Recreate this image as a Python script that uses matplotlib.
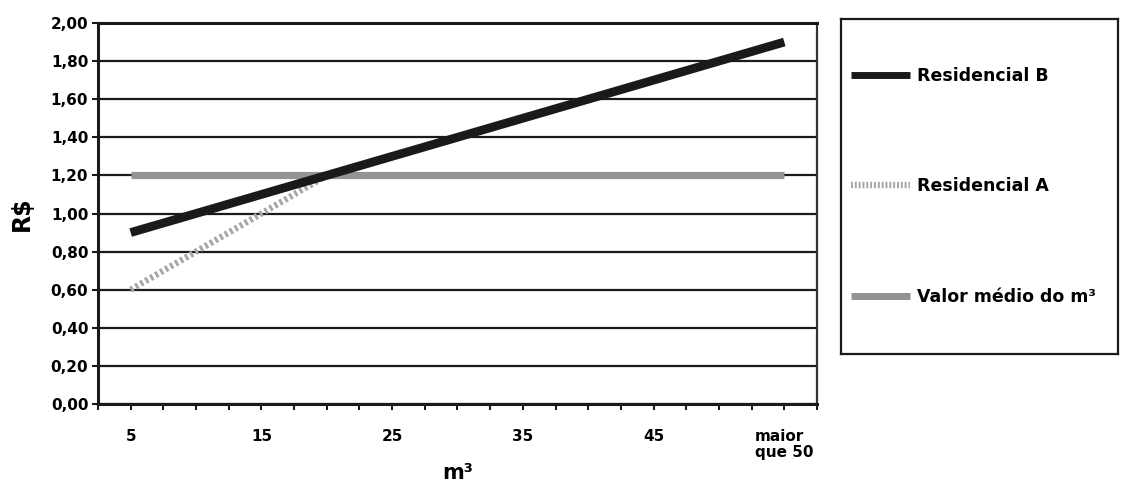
import matplotlib
matplotlib.use("Agg")
import matplotlib.pyplot as plt
from matplotlib.lines import Line2D
from matplotlib.ticker import MultipleLocator

plt.rcParams["font.family"] = ["DejaVu Sans"]
plt.rcParams["font.weight"] = "bold"

# x positions of the categories (last one is "maior que 50")
tick_pos = [5, 15, 25, 35, 45, 55]
tick_labels = ["5", "15", "25", "35", "45", "maior\nque 50"]

res_b_x = [5, 55]
res_b_y = [0.90, 1.90]

res_a_x = [5, 20]
res_a_y = [0.60, 1.20]

media_x = [5, 55]
media_y = [1.20, 1.20]

y_ticks = [0.0, 0.2, 0.4, 0.6, 0.8, 1.0, 1.2, 1.4, 1.6, 1.8, 2.0]

fig = plt.figure(figsize=(11.21, 4.82), dpi=100)
ax = fig.add_axes([0.0874, 0.1618, 0.6414, 0.7905])

for y in y_ticks:
    ax.axhline(y, color="#1a1a1a", linewidth=1.6, zorder=1)

ax.plot(media_x, media_y, color="#939393", linewidth=5.2,
        solid_capstyle="butt", zorder=3)
ax.plot(res_a_x, res_a_y, color="#a6a6a6", linewidth=4.6,
        linestyle=(0, (0.45, 0.45)), dash_capstyle="butt", zorder=2)
ax.plot(res_b_x, res_b_y, color="#1a1a1a", linewidth=6.3,
        solid_capstyle="butt", zorder=4)

ax.set_xlim(2.5, 57.5)
ax.set_ylim(0, 2.0)
ax.set_xticks(tick_pos)
ax.set_xticklabels(tick_labels, fontsize=11, fontweight="bold", linespacing=1.1)
ax.xaxis.set_minor_locator(MultipleLocator(2.5))
ax.set_yticks(y_ticks)
ax.set_yticklabels([f"{v:.2f}".replace(".", ",") for v in y_ticks],
                   fontsize=11, fontweight="bold")
for lab in ax.get_xticklabels():
    lab.set_horizontalalignment("center")
    lab.set_multialignment("left")

ax.tick_params(axis="x", which="both", direction="out", length=4, width=1.5,
               color="#1a1a1a", pad=14)
ax.tick_params(axis="y", direction="out", length=4, width=1.5,
               color="#1a1a1a", pad=3)

for side in ["left", "bottom", "top"]:
    ax.spines[side].set_linewidth(2.2)
    ax.spines[side].set_color("#1a1a1a")
ax.spines["right"].set_linewidth(1.6)
ax.spines["right"].set_color("#333333")

ax.set_ylabel("R$", fontsize=17, fontweight="bold", labelpad=12)
ax.set_xlabel("m³", fontsize=15, fontweight="bold", labelpad=2)

# legend box
lax = fig.add_axes([0.7502, 0.2656, 0.2475, 0.695])
lax.set_xticks([])
lax.set_yticks([])
for s in lax.spines.values():
    s.set_linewidth(1.6)
    s.set_color("#1a1a1a")

handles = [
    Line2D([], [], color="#1a1a1a", linewidth=5.0, solid_capstyle="butt"),
    Line2D([], [], color="#a6a6a6", linewidth=4.6,
           linestyle=(0, (0.3, 0.3)), dash_capstyle="butt"),
    Line2D([], [], color="#939393", linewidth=5.0, solid_capstyle="butt"),
]
labels = ["Residencial B", "Residencial A", "Valor médio do m³"]
lax.legend(handles, labels, loc="center left", frameon=False,
           prop={"size": 12.5, "weight": "bold"}, handlelength=3.4,
           handletextpad=0.4, labelspacing=5.34, borderaxespad=0.2)

fig.savefig("out.png", dpi=100)
